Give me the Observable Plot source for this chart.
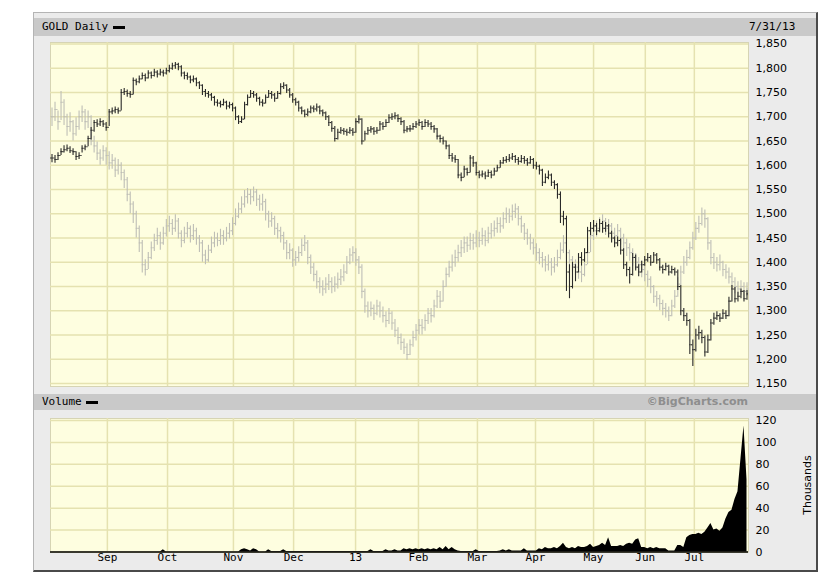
<!DOCTYPE html>
<html><head><meta charset="utf-8">
<script src="https://cdn.jsdelivr.net/npm/d3@7"></script>
<script src="https://cdn.jsdelivr.net/npm/@observablehq/plot@0.6"></script>
<style>
body{margin:0;background:#fff;}
#wrap{position:relative;width:832px;height:586px;overflow:hidden;background:#fff;}
.abs{position:absolute;}
.mono{font-family:"DejaVu Sans Mono",monospace;font-size:11px;color:#000;}
svg{position:absolute;left:0;top:0;}
</style></head>
<body>
<div id="wrap">
  <div class="abs" style="left:33px;top:12px;width:782px;height:557px;background:#ebebeb;border-left:1px solid #b4b4b4;border-top:1px solid #b4b4b4;border-right:2px solid #4a4a4a;border-bottom:2px solid #4a4a4a;"></div>
  <div class="abs" style="left:34px;top:18px;width:782px;height:18px;background:#c9c9c9;"></div>
  <div class="abs" style="left:34px;top:394px;width:782px;height:16px;background:#c9c9c9;"></div>
  <div class="abs mono" id="t1" style="left:42px;top:20px;line-height:14px;"></div>
  <div class="abs" style="left:113px;top:26px;width:12px;height:3px;background:#000;"></div>
  <div class="abs mono" id="t2" style="left:749px;top:20px;line-height:14px;"></div>
  <div class="abs mono" id="t3" style="left:42px;top:395px;line-height:14px;"></div>
  <div class="abs" style="left:86px;top:401px;width:12px;height:3px;background:#000;"></div>
  <div class="abs" id="t4" style="left:600px;top:395px;width:148px;text-align:right;font-family:'DejaVu Sans',sans-serif;font-weight:bold;font-size:11px;line-height:14px;color:#8e8e8e;"></div>
  <div class="abs" id="t5" style="left:778px;top:478px;width:60px;text-align:center;font-family:'DejaVu Sans',sans-serif;font-size:11px;line-height:14px;color:#000;transform:rotate(-90deg);"></div>
  <div id="p1"></div>
  <div id="p2"></div>
</div>
<script>
// ---- text ----
const chartTitle = "GOLD Daily";
const chartDate = "7/31/13";
const volumeTitle = "Volume";
const credit = "\u00A9BigCharts.com";
const volumeUnit = "Thousands";

// ---- axes ----
const priceTicks = [1150,1200,1250,1300,1350,1400,1450,1500,1550,1600,1650,1700,1750,1800,1850];
const volumeTicks = [0,20,40,60,80,100,120];
const monthLabels = ["Sep","Oct","Nov","Dec","13","Feb","Mar","Apr","May","Jun","Jul"];
const monthPos = [18.4,38.4,60.3,80.3,100.9,121.8,141.4,160.7,180,197.2,213.5];

// ---- GOLD daily (black) ----
const goldClose = [
1615,1612,1620,1628,1632,1635,1630,1628,1618,1620,
1635,1638,1655,1672,1688,1685,1690,1685,1678,1710,
1712,1715,1712,1750,1752,1748,1746,1775,1772,1778,
1785,1780,1790,1785,1792,1788,1792,1790,1795,1800,
1805,1808,1803,1790,1785,1782,1776,1778,1770,1765,
1752,1748,1745,1740,1730,1728,1725,1730,1722,1725,
1718,1700,1690,1695,1725,1740,1748,1745,1738,1730,
1728,1740,1748,1745,1738,1748,1762,1765,1755,1745,
1735,1730,1718,1712,1705,1710,1718,1716,1720,1712,
1708,1700,1688,1676,1655,1668,1672,1670,1668,1672,
1668,1690,1695,1650,1665,1672,1675,1670,1672,1685,
1680,1688,1698,1700,1702,1696,1690,1672,1675,1675,
1680,1685,1688,1680,1688,1685,1680,1675,1660,1655,
1650,1640,1620,1615,1612,1580,1575,1592,1585,1615,
1605,1585,1580,1582,1578,1585,1580,1588,1595,1605,
1610,1612,1615,1618,1612,1608,1614,1610,1605,1612,
1600,1598,1590,1565,1575,1580,1565,1560,1540,1495,
1490,1380,1350,1390,1380,1410,1405,1420,1465,1470,
1475,1465,1480,1470,1475,1460,1450,1440,1445,1425,
1395,1385,1375,1410,1390,1380,1395,1405,1410,1400,
1415,1405,1390,1385,1392,1380,1385,1380,1350,1300,
1290,1280,1230,1220,1250,1255,1245,1215,1240,1275,
1285,1290,1285,1295,1290,1320,1345,1325,1330,1340,
1325,1335];
const goldLow = [
1605,1604,1610,1620,1625,1628,1624,1620,1610,1612,
1625,1630,1638,1652,1668,1678,1680,1678,1670,1680,
1704,1706,1705,1712,1744,1740,1738,1745,1764,1768,
1776,1772,1778,1778,1782,1780,1784,1782,1786,1790,
1796,1798,1795,1782,1776,1775,1768,1770,1762,1756,
1744,1740,1738,1732,1722,1720,1718,1722,1714,1716,
1710,1692,1684,1686,1694,1722,1738,1738,1730,1722,
1720,1726,1738,1736,1730,1736,1745,1756,1748,1738,
1728,1722,1710,1704,1698,1700,1706,1708,1710,1704,
1700,1692,1680,1668,1648,1652,1664,1662,1660,1664,
1660,1666,1685,1642,1650,1662,1666,1662,1664,1670,
1672,1678,1686,1692,1694,1688,1682,1665,1667,1668,
1672,1676,1680,1672,1678,1678,1672,1666,1652,1646,
1642,1632,1612,1606,1604,1572,1566,1574,1578,1584,
1596,1578,1572,1574,1570,1575,1572,1578,1586,1594,
1602,1604,1606,1610,1604,1600,1604,1602,1598,1602,
1592,1590,1580,1556,1562,1570,1556,1550,1530,1480,
1475,1340,1325,1345,1360,1378,1392,1400,1418,1455,
1462,1455,1462,1460,1462,1450,1440,1430,1432,1415,
1385,1370,1355,1372,1382,1370,1378,1392,1400,1392,
1398,1396,1382,1376,1382,1372,1376,1372,1342,1290,
1278,1268,1210,1185,1215,1240,1232,1205,1212,1238,
1270,1280,1276,1282,1282,1288,1318,1316,1318,1325,
1318,1322];
const goldHigh = [
1622,1620,1626,1634,1640,1642,1638,1634,1628,1626,
1640,1642,1660,1678,1692,1694,1696,1692,1688,1715,
1718,1720,1718,1756,1758,1755,1752,1780,1778,1784,
1790,1788,1795,1792,1798,1795,1798,1796,1800,1806,
1810,1812,1810,1805,1792,1790,1784,1784,1780,1772,
1766,1756,1752,1748,1742,1735,1732,1736,1732,1730,
1728,1720,1702,1700,1730,1745,1754,1752,1748,1740,
1735,1745,1754,1752,1748,1752,1768,1770,1766,1758,
1748,1738,1732,1720,1714,1716,1722,1722,1726,1722,
1714,1710,1702,1690,1680,1674,1678,1676,1674,1678,
1676,1696,1702,1696,1670,1678,1680,1678,1678,1690,
1688,1694,1704,1706,1708,1704,1698,1692,1680,1682,
1686,1690,1694,1690,1694,1692,1688,1682,1676,1662,
1658,1650,1642,1624,1620,1612,1584,1598,1594,1620,
1618,1606,1588,1588,1586,1590,1588,1594,1600,1610,
1616,1618,1622,1624,1620,1616,1620,1618,1614,1618,
1614,1606,1600,1592,1582,1588,1582,1568,1562,1545,
1505,1495,1395,1400,1395,1418,1420,1428,1472,1482,
1486,1480,1488,1484,1482,1478,1464,1452,1452,1448,
1428,1400,1390,1418,1415,1395,1402,1412,1418,1414,
1420,1418,1408,1394,1398,1394,1392,1388,1384,1352,
1305,1295,1282,1240,1262,1268,1260,1248,1250,1282,
1295,1298,1294,1302,1300,1328,1352,1348,1338,1345,
1342,1342];

// ---- comparison series (gray) ----
const compClose = [
1700,1715,1690,1730,1700,1680,1690,1665,1680,1700,
1710,1690,1700,1650,1640,1625,1615,1630,1620,1605,
1610,1590,1600,1585,1570,1540,1520,1500,1470,1440,
1395,1385,1410,1430,1445,1455,1440,1460,1475,1480,
1470,1485,1460,1445,1460,1470,1455,1465,1450,1440,
1415,1405,1425,1440,1450,1445,1455,1450,1460,1465,
1480,1495,1510,1520,1535,1540,1535,1545,1530,1520,
1525,1500,1485,1490,1470,1465,1455,1440,1420,1425,
1405,1410,1420,1435,1440,1410,1390,1375,1360,1350,
1345,1355,1360,1350,1355,1365,1370,1380,1400,1415,
1420,1405,1390,1340,1310,1300,1305,1295,1310,1300,
1290,1280,1295,1275,1260,1245,1235,1225,1210,1230,
1245,1260,1270,1265,1280,1295,1290,1310,1330,1320,
1350,1375,1390,1400,1410,1420,1430,1440,1435,1445,
1440,1450,1445,1455,1445,1460,1465,1470,1480,1475,
1490,1500,1495,1505,1510,1490,1475,1460,1450,1440,
1430,1420,1410,1405,1395,1400,1390,1395,1410,1425,
1440,1420,1405,1395,1390,1380,1375,1395,1420,1455,
1465,1470,1480,1485,1470,1475,1460,1455,1465,1450,
1440,1430,1420,1410,1400,1395,1385,1375,1365,1350,
1330,1325,1315,1305,1300,1290,1310,1330,1355,1380,
1400,1410,1430,1450,1470,1480,1500,1490,1440,1410,
1400,1395,1400,1385,1380,1370,1360,1350,1345,1350,
1340,1345];
const compLow = [
1680,1690,1672,1692,1682,1660,1668,1650,1660,1672,
1688,1672,1676,1640,1625,1610,1600,1608,1600,1590,
1592,1575,1580,1568,1552,1525,1500,1480,1450,1420,
1378,1372,1385,1405,1422,1435,1425,1435,1452,1462,
1455,1462,1448,1430,1438,1450,1440,1445,1435,1420,
1400,1395,1400,1418,1430,1432,1435,1435,1442,1448,
1455,1475,1490,1500,1512,1520,1518,1525,1515,1505,
1505,1485,1470,1472,1455,1448,1440,1425,1405,1405,
1390,1392,1400,1412,1422,1395,1375,1360,1345,1335,
1330,1335,1342,1335,1338,1345,1352,1360,1375,1395,
1400,1392,1375,1325,1295,1285,1288,1280,1290,1285,
1275,1265,1272,1260,1245,1230,1218,1210,1198,1208,
1225,1238,1250,1250,1258,1272,1275,1285,1305,1305,
1318,1348,1368,1380,1390,1400,1410,1418,1420,1425,
1425,1430,1430,1435,1432,1438,1448,1452,1460,1460,
1468,1480,1480,1485,1490,1475,1460,1445,1435,1425,
1415,1402,1395,1388,1380,1382,1372,1378,1390,1405,
1418,1405,1390,1378,1372,1365,1358,1370,1395,1420,
1445,1452,1460,1465,1455,1455,1445,1438,1445,1435,
1425,1412,1402,1392,1385,1378,1368,1360,1348,1335,
1315,1308,1300,1290,1285,1278,1288,1305,1328,1352,
1375,1392,1405,1425,1445,1460,1475,1470,1425,1395,
1385,1380,1382,1370,1365,1355,1345,1335,1330,1332,
1325,1330];
const compHigh = [
1718,1730,1712,1752,1735,1705,1708,1692,1698,1712,
1722,1715,1712,1702,1660,1648,1632,1640,1636,1628,
1622,1615,1612,1605,1590,1575,1545,1525,1505,1475,
1445,1405,1420,1442,1458,1470,1462,1472,1488,1495,
1488,1498,1490,1465,1472,1482,1475,1478,1470,1455,
1445,1425,1435,1452,1462,1460,1468,1465,1472,1480,
1492,1510,1522,1535,1548,1552,1550,1555,1550,1538,
1540,1530,1505,1502,1495,1480,1472,1462,1445,1438,
1428,1422,1432,1448,1455,1445,1415,1398,1382,1368,
1362,1368,1375,1368,1370,1378,1385,1395,1412,1428,
1432,1428,1412,1395,1345,1318,1318,1312,1322,1318,
1308,1298,1305,1298,1282,1265,1252,1242,1232,1240,
1258,1272,1282,1282,1292,1305,1305,1322,1342,1340,
1362,1388,1402,1415,1425,1435,1445,1452,1452,1460,
1458,1465,1462,1470,1465,1472,1480,1485,1492,1492,
1502,1512,1510,1518,1520,1515,1495,1480,1468,1458,
1448,1438,1428,1420,1412,1415,1408,1410,1425,1440,
1455,1448,1425,1412,1405,1398,1392,1408,1432,1468,
1478,1485,1492,1498,1490,1488,1480,1470,1478,1470,
1458,1448,1438,1428,1418,1410,1402,1392,1382,1370,
1352,1340,1332,1322,1315,1308,1322,1342,1368,1392,
1412,1425,1442,1462,1482,1495,1512,1508,1492,1445,
1418,1410,1415,1402,1395,1388,1378,1368,1360,1362,
1358,1358];

// ---- volume (thousands) ----
const volume = [
0,0,0,0,0,0,0,0,0,0,
0,0,0,0,0,0,0,0,0,0,
0,0,0,0,0,0,0,0,0,0,
0,0,0,0,0,0,0,2,0,0,
0,0,0,0,0,0,0,0,0,0,
0,0,0,0,0,0,0,0,0,0,
0,0,0,2,3,2,1,3,2,0,
0,0,2,0.5,0.5,0.5,0.5,2,0.5,0.5,
0.5,0.5,0.5,0.5,0.5,0.5,0.5,0.5,0.5,0.5,
0.5,0.5,0.5,0.5,0.5,0.5,0.5,0.5,0.5,0.5,
0.5,0.5,0.5,0.5,0.5,0.5,2,0.5,0.5,0.5,
0.5,2,1,1,2,1,1,3,2,3,
2,3,2,3,2,3,2,3,2,4,
2,5,2,4,2,1,0.5,0.5,0.5,0.5,
0.5,2,0.5,0.5,0.5,0.5,0.5,0.5,0.5,1,
2,1,2,1,1,1,1,3,1,1,
1,1,3,2,4,3,3,4,3,5,
8,4,3,4,3,5,4,4,5,7,
4,5,6,8,6,13,5,5,5,6,
5,7,8,7,11,12,4,4,3,4,
3,4,3,3,3,1,1,1,6,6,
4,13,15,16,16,17,16,18,22,26,
20,21,19,22,30,36,38,48,55,85,
115,66];

// ---- build ----
document.getElementById("t1").textContent = chartTitle;
document.getElementById("t2").textContent = chartDate;
document.getElementById("t3").textContent = volumeTitle;
document.getElementById("t4").textContent = credit;
document.getElementById("t5").textContent = volumeUnit;

const gold = goldClose.map((c, i) => ({i, c, l: goldLow[i], h: goldHigh[i], o: i ? goldClose[i - 1] : c}));
const comp = compClose.map((c, i) => ({i, c, l: compLow[i], h: compHigh[i], o: i ? compClose[i - 1] : c}));
const vol = volume.map((v, i) => ({i, v}));
const months = monthLabels.map((label, k) => ({label, pos: monthPos[k]}));
const xDomain = [-0.5, goldClose.length - 0.5];
const yellow = "#fefee0";
const grid = "#e5e2b0";
const fmt = d3.format(",");

function bars(data, color, w) {
  return [
    Plot.ruleX(data, {x: "i", y1: "l", y2: "h", stroke: color, strokeWidth: w}),
    Plot.ruleY(data, {y: "o", x1: d => d.i - 0.45, x2: "i", stroke: color, strokeWidth: w}),
    Plot.ruleY(data, {y: "c", x1: "i", x2: d => d.i + 0.45, stroke: color, strokeWidth: w})
  ];
}

const price = Plot.plot({
  width: 832, height: 390,
  marginLeft: 50, marginRight: 84, marginTop: 42, marginBottom: 4,
  style: {background: "transparent", fontFamily: "'DejaVu Sans', sans-serif", fontSize: "11px", color: "#000", overflow: "visible"},
  x: {domain: xDomain, axis: null},
  y: {domain: [1144, 1853], axis: null},
  marks: [
    Plot.frame({fill: yellow, stroke: "#d6d4b4"}),
    Plot.ruleY(priceTicks, {stroke: grid, strokeWidth: 1.5}),
    Plot.ruleX(monthPos, {stroke: grid, strokeWidth: 1.5}),
    ...bars(comp, "#bebeb6", 1.1),
    ...bars(gold, "#2a2a2a", 1.1),
    Plot.text(priceTicks, {y: d => d, text: d => fmt(d), frameAnchor: "right", textAnchor: "start", dx: 7, fill: "#000"})
  ]
});
document.getElementById("p1").appendChild(price);

const volPlot = Plot.plot({
  width: 832, height: 586,
  marginLeft: 50, marginRight: 84, marginTop: 418, marginBottom: 34.5,
  style: {background: "transparent", fontFamily: "'DejaVu Sans', sans-serif", fontSize: "11px", color: "#000", overflow: "visible"},
  x: {domain: xDomain, axis: null},
  y: {domain: [0, 121.8], axis: null},
  marks: [
    Plot.frame({fill: yellow, stroke: "#d6d4b4"}),
    Plot.ruleY(volumeTicks, {stroke: grid, strokeWidth: 1.5}),
    Plot.ruleX(monthPos, {stroke: grid, strokeWidth: 1.5}),
    Plot.areaY(vol, {x: "i", y: "v", fill: "#000"}),
    Plot.ruleY([0], {stroke: "#000", strokeWidth: 1.5}),
    Plot.text(volumeTicks, {y: d => d, text: d => String(d), frameAnchor: "right", textAnchor: "start", dx: 7, fill: "#000"}),
    Plot.text(months, {x: "pos", text: "label", frameAnchor: "bottom", dy: 9, fontFamily: "'DejaVu Sans Mono', monospace", fill: "#000"})
  ]
});
document.getElementById("p2").appendChild(volPlot);
</script>
</body></html>
